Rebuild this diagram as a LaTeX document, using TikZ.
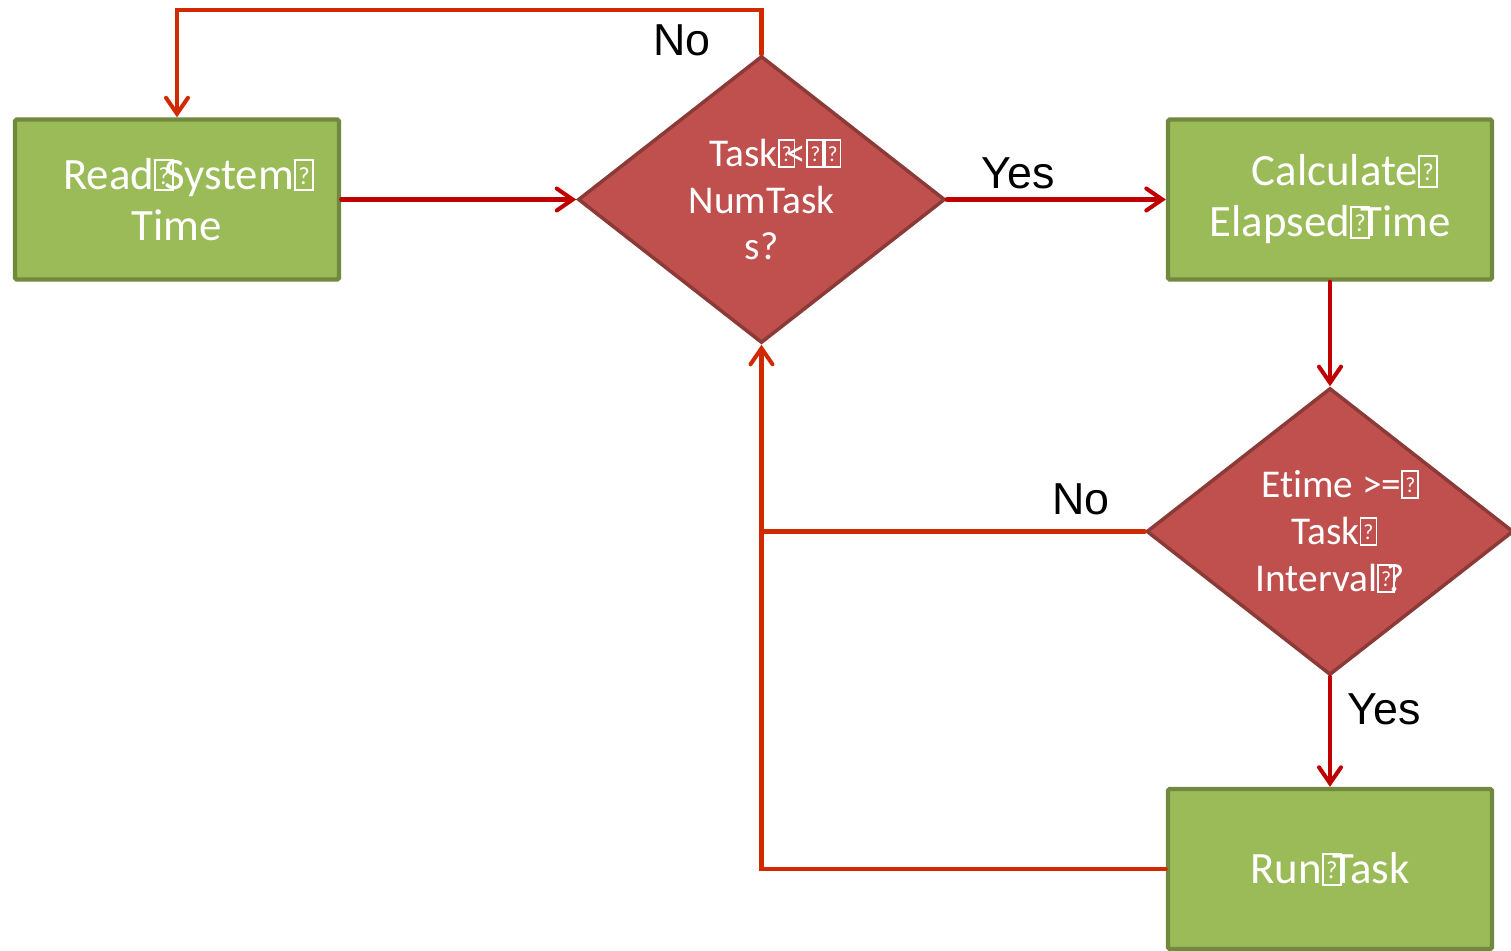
\documentclass[tikz,border=0pt]{standalone}
\usepackage{graphicx}
\usepackage{fontspec}
\setmainfont{Carlito}[RawFeature={-liga,-clig}]
\newfontfamily\labelfont{Liberation Sans}
\usetikzlibrary{shapes.geometric,arrows.meta}

\definecolor{boxfill}{HTML}{9BBB59}
\definecolor{boxline}{HTML}{71893F}
\definecolor{diafill}{HTML}{C0504D}
\definecolor{dialine}{HTML}{8C3A38}
\definecolor{flowred}{HTML}{C00000}
\definecolor{looporange}{HTML}{D22A00}

% placeholder glyph (framed question mark); narrow advance so it may overlap the next letter
\newcommand\nogbox{\setlength{\fboxsep}{0pt}\setlength{\fboxrule}{0.045em}%
  \fbox{\makebox[0.36em]{\rule{0pt}{0.64em}\raisebox{0.12em}{\scalebox{0.55}{?}}}}}
\newcommand\nog{\makebox[0.23em][l]{\nogbox}}
\newcommand\nogw{\makebox[0.44em][l]{\nogbox}}

\begin{document}
\begin{tikzpicture}[x=0.02cm,y=-0.02cm,
  procbox/.style={draw=boxline, line width=2.5pt, fill=boxfill, rounded corners=1pt,
    minimum width=6.48cm, minimum height=3.2cm, inner sep=0pt, text=white,
    align=center, font=\fontsize{25.5}{29}\selectfont},
  decision/.style={diamond, draw=dialine, line width=2pt, fill=diafill,
    minimum width=7.34cm, minimum height=5.74cm, inner sep=0pt, text=white,
    align=center, font=\fontsize{22.4}{26.7}\selectfont},
  flow/.style={draw=flowred, line width=2.3pt, line cap=round,
    -{Straight Barb[length=0.32cm,width=0.44cm,line cap=round]}},
  loopline/.style={draw=looporange, line width=2.3pt, line cap=round},
  looparrow/.style={loopline, -{Straight Barb[length=0.32cm,width=0.44cm,line cap=round]}},
  edgelabel/.style={font=\labelfont\fontsize{25.5}{30}\selectfont, text=black, inner sep=0pt}]

\useasboundingbox (0,0) rectangle (1511,950);

% nodes
\node[procbox] (read) at (177,199.5) {\hspace*{0.3em}Read\nog System\nog\\Time};
\node[decision] (more) at (761.5,199.5) {\hspace*{0.7em}Task\nog<\nogw\nogw\\NumTask\\s?};
\node[procbox] (calc) at (1330,199.5) {\hspace*{0.45em}Calculate\nog\\Elapsed\nog Time};
\node[decision] (due) at (1330,531.5) {\hspace*{0.3em}Etime >=\nog\\Task\nog\\Interval\nog?};
\node[procbox] (run) at (1330,869) {Run\nog Task};

\coordinate (topline) at (0,10);

% connectors
\draw[flow] (read.east) -- (more.west);
\draw[flow] (more.east) -- (calc.west);
\draw[flow] (calc.south) -- (due.north);
\draw[flow] (due.south) -- (run.north);
\draw[looparrow] (more.north) -- (more.north |- topline) -| (read.north);
\draw[loopline] (due.west) -- (due.west -| more.south);
\draw[looparrow] (run.west) -| (more.south);

% branch labels
\node[edgelabel] (lblnotop) at (682,40) {No};
\node[edgelabel] (lblyes1) at (1018,173) {Yes};
\node[edgelabel] (lblnomid) at (1081,499) {No};
\node[edgelabel] (lblyes2) at (1384,709) {Yes};
\end{tikzpicture}
\end{document}
